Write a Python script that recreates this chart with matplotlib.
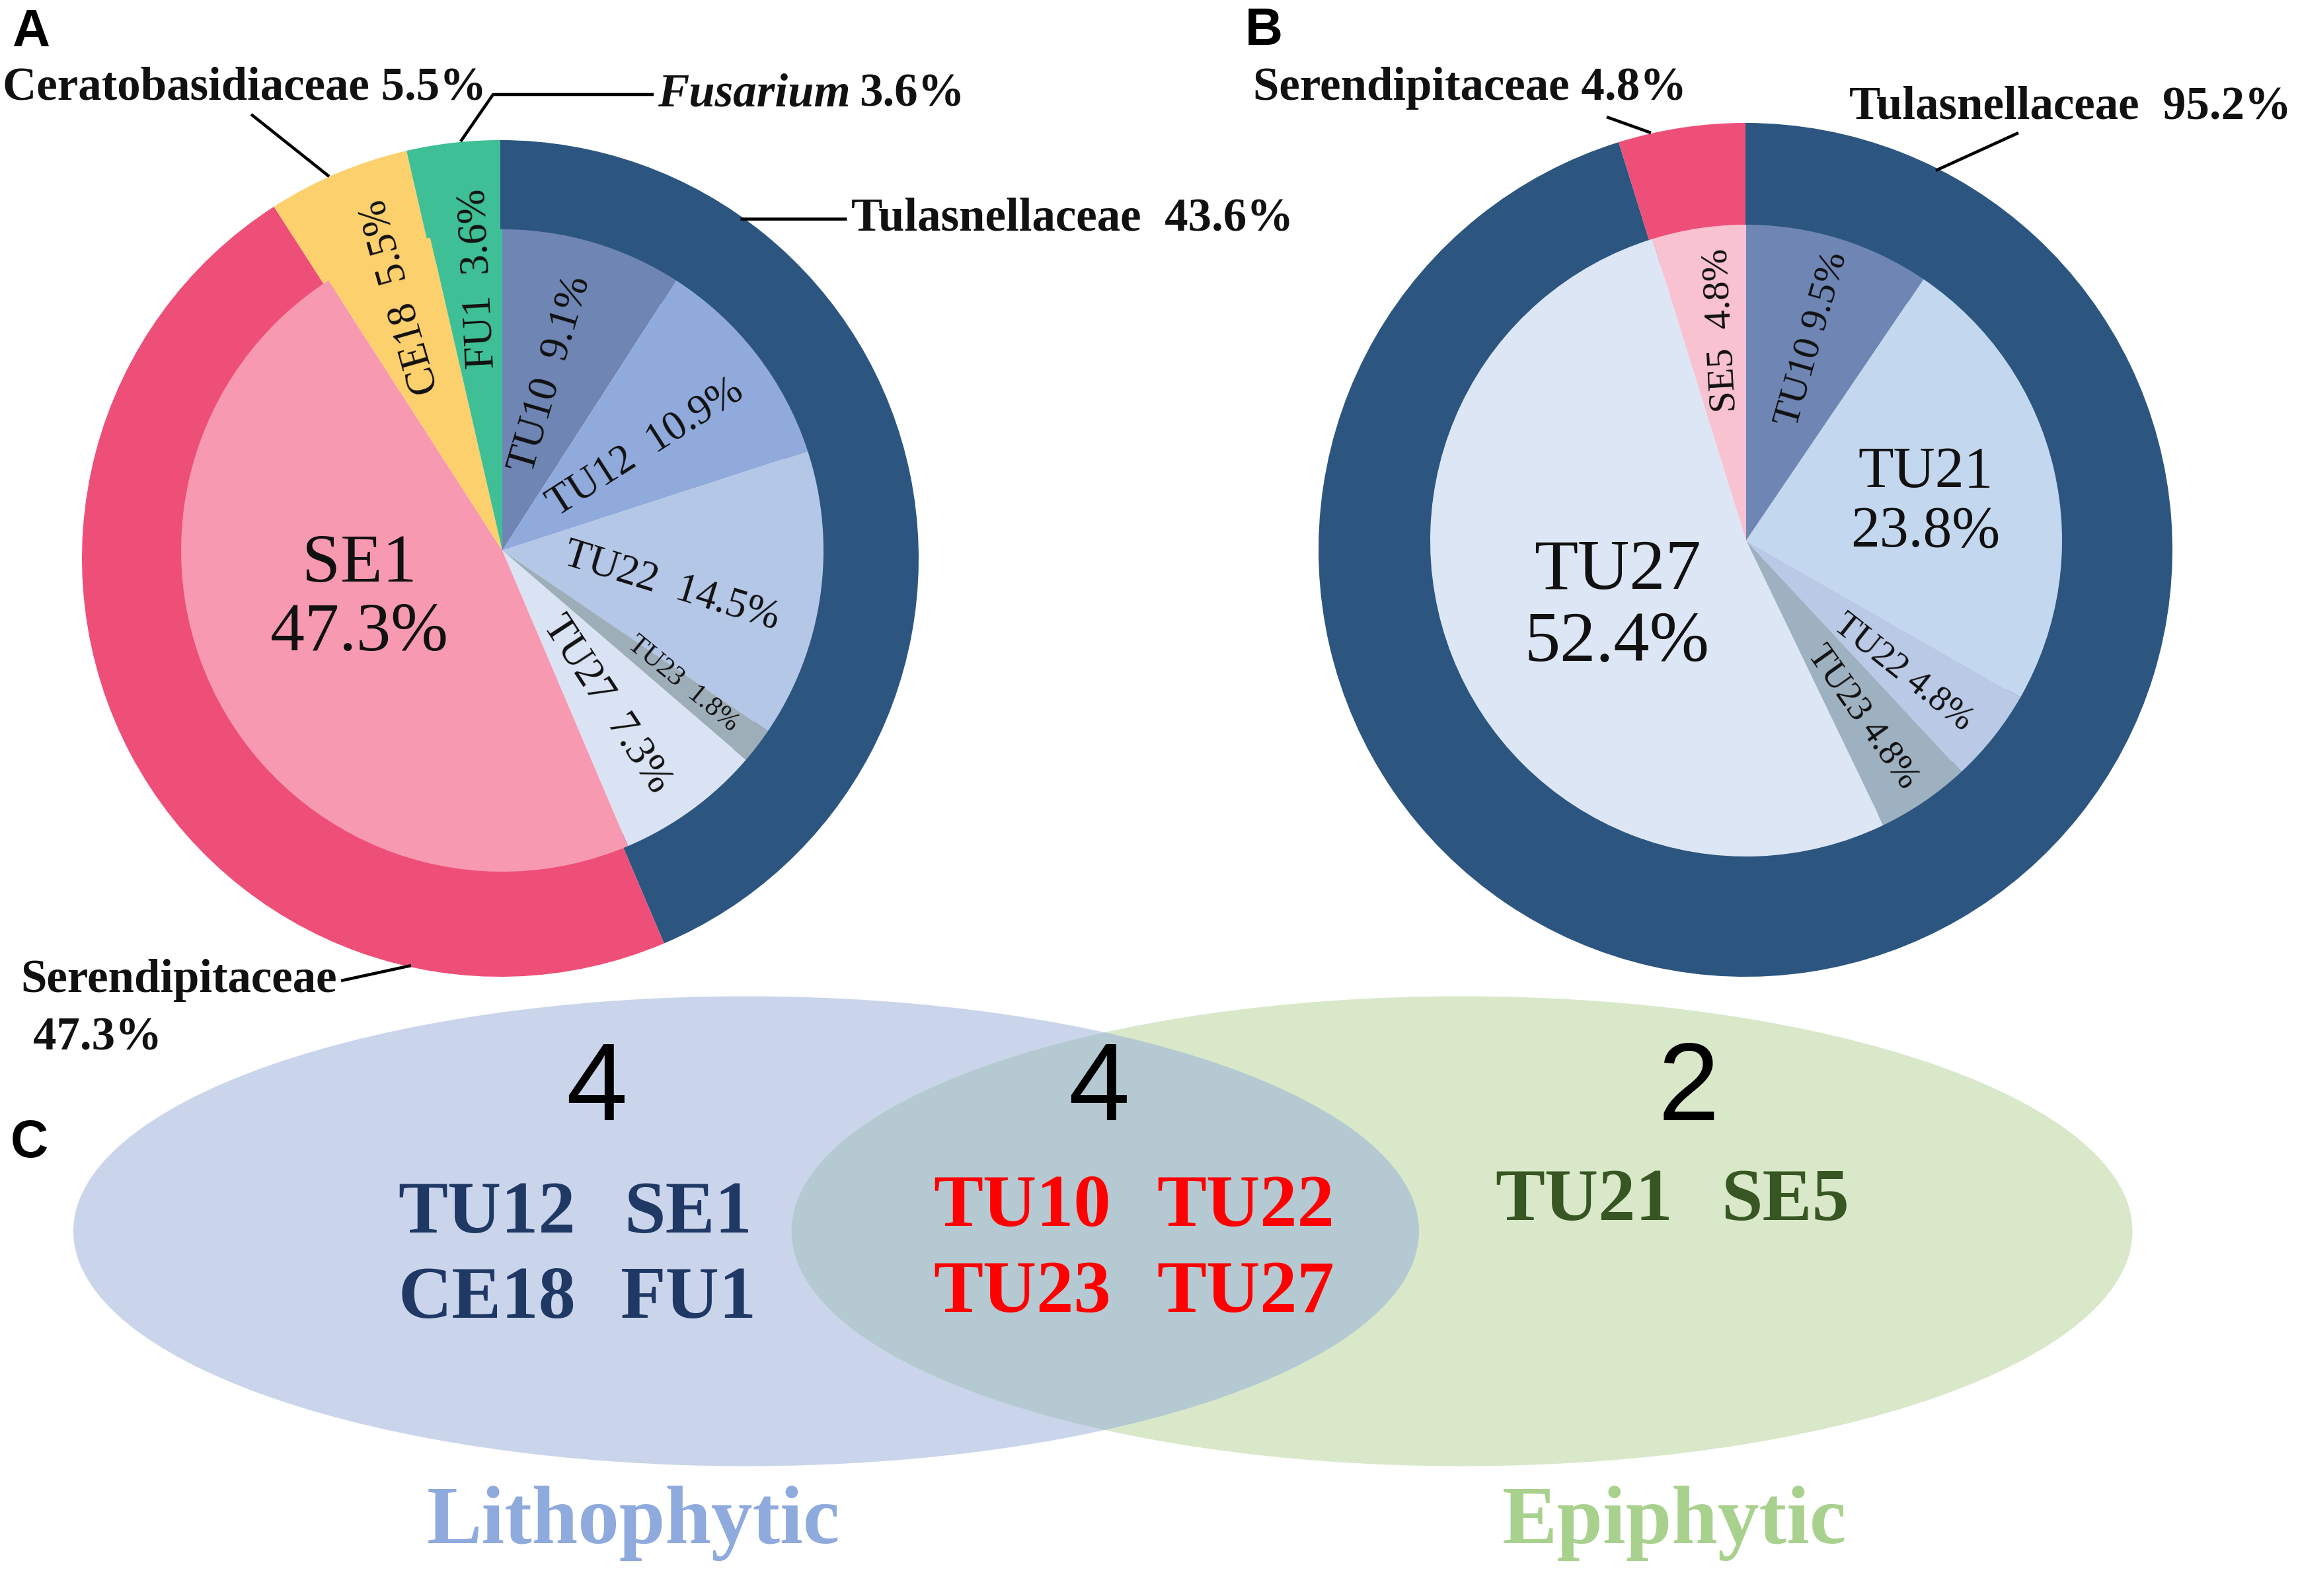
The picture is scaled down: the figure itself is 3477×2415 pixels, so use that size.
import numpy as np
import matplotlib
matplotlib.use("Agg")
import matplotlib.pyplot as plt
from matplotlib.patches import Ellipse

# ---- data ----
# panel A (lithophytic)
a_outer_names = ["Tulasnellaceae", "Serendipitaceae", "Ceratobasidiaceae", "Fusarium"]
a_outer_pct = [43.6, 47.3, 5.5, 3.6]
a_inner_names = ["TU10", "TU12", "TU22", "TU23", "TU27", "SE1", "CE18", "FU1"]
a_inner_pct = [9.1, 10.9, 14.5, 1.8, 7.3, 47.3, 5.5, 3.6]

# panel B (epiphytic)
b_outer_names = ["Tulasnellaceae", "Serendipitaceae"]
b_outer_pct = [95.2, 4.8]
b_inner_names = ["TU10", "TU21", "TU22", "TU23", "TU27", "SE5"]
b_inner_pct = [9.5, 23.8, 4.8, 4.8, 52.4, 4.8]

# panel C (venn)
venn_counts = [4, 4, 2]
venn_only_litho = [["TU12", "SE1"], ["CE18", "FU1"]]
venn_shared = [["TU10", "TU22"], ["TU23", "TU27"]]
venn_only_epi = [["TU21", "SE5"]]
venn_sets = ["Lithophytic", "Epiphytic"]

# ---- style ----
W, H = 3477, 2415
DPI = 300
SERIF = "Liberation Serif"
SANS = "Liberation Sans"

outer_col = {"Tulasnellaceae": "#2c5680", "Serendipitaceae": "#ee4f78",
             "Ceratobasidiaceae": "#fdd06e", "Fusarium": "#3fbf95"}
a_inner_col = ["#6f86b5", "#91aadc", "#b4c7e7", "#9eaeb9", "#dae3f3",
               "#f799b1", "#fdd06e", "#3fbf95"]
b_inner_col = ["#6f86b5", "#c3d7ee", "#b9c9e6", "#9eb1c1", "#dde6f4", "#f9c2d0"]

# label placement: (radius fraction, angle shift, rotation shift or None, fontsize, text)
a_lab = {
    "TU10": (0.57, 1, 0, 15, "TU10  9.1%"),
    "TU12": (0.55, -2, -5, 15, "TU12  10.9%"),
    "TU22": (0.54, -4, -9, 15, "TU22  14.5%"),
    "TU23": (0.70, 1, -2, 10, "TU23  1.8%"),
    "TU27": (0.58, -2, -3, 15, "TU27  7.3%"),
    "SE1": (0.47, -9, None, 25, "SE1\n47.3%"),
    "CE18": (0.85, -1, -7, 15, "CE18  5.5%"),
    "FU1": (0.85, -1.5, -3.5, 15, "FU1  3.6%"),
}
b_lab = {
    "TU10": (0.67, -1, 1, 14, "TU10 9.5%"),
    "TU21": (0.58, -1, None, 21, "TU21\n23.8%"),
    "TU22": (0.65, -1.7, 0, 13, "TU22 4.8%"),
    "TU23": (0.67, -1, 1, 13, "TU23 4.8%"),
    "TU27": (0.46, 6, None, 26, "TU27\n52.4%"),
    "SE5": (0.67, -2, -5.5, 14, "SE5  4.8%"),
}


def Y(py):
    # pixel row -> data y
    return H - py


def norm_rot(a):
    return ((a + 180) % 360) - 180


def donut(ax, c_out, r_out, c_in, r_in, outer, outer_names, inner, inner_names, inner_cols, labs):
    ax.pie(outer, radius=r_out, center=c_out, startangle=90, counterclock=False,
           colors=[outer_col[n] for n in outer_names],
           wedgeprops=dict(width=r_out - r_in + 30, linewidth=0))
    wedges, _ = ax.pie(inner, radius=r_in, center=c_in, startangle=90,
                       counterclock=False, colors=inner_cols,
                       wedgeprops=dict(linewidth=0))
    cx, cy = c_in
    for w, name in zip(wedges, inner_names):
        frac, dpos, drot, fs, txt = labs[name]
        mid = (w.theta1 + w.theta2) / 2
        ang = np.deg2rad(mid + dpos)
        x = cx + frac * r_in * np.cos(ang)
        y = cy + frac * r_in * np.sin(ang)
        rot = 0 if drot is None else norm_rot(mid + drot)
        ax.text(x, y, txt, fontsize=fs, family=SERIF, ha="center", va="center",
                rotation=rot, rotation_mode="anchor", color="#111111",
                linespacing=1.15)


fig = plt.figure(figsize=(W / DPI, H / DPI), dpi=DPI)
ax = fig.add_axes([0, 0, 1, 1])

# pies
donut(ax, (757, Y(845)), 633, (760, Y(833)), 486, a_outer_pct, a_outer_names,
      a_inner_pct, a_inner_names, a_inner_col, a_lab)
donut(ax, (2641, Y(832)), 646, (2642, Y(818)), 478, b_outer_pct, b_outer_names,
      b_inner_pct, b_inner_names, b_inner_col, b_lab)

lab_kw = dict(fontsize=17, family=SERIF, fontweight="bold", va="center", color="#111111")
line_kw = dict(color="black", lw=1.1, solid_capstyle="butt")

# panel A callouts
ax.text(4, Y(133), "Ceratobasidiaceae 5.5%", ha="left", **lab_kw)
ax.plot([380, 498], [Y(173), Y(267)], **line_kw)
ax.text(995, Y(143), "Fusarium", ha="left", fontstyle="italic", **lab_kw)
ax.text(1300, Y(143), "3.6%", ha="left", **lab_kw)
ax.plot([697, 746, 989], [Y(214), Y(143), Y(143)], **line_kw)
ax.text(1288, Y(331), "Tulasnellaceae  43.6%", ha="left", **lab_kw)
ax.plot([1120, 1281], [Y(331), Y(331)], **line_kw)
ax.text(31, Y(1484), "Serendipitaceae", ha="left", **lab_kw)
ax.text(50, Y(1571), "47.3%", ha="left", **lab_kw)
ax.plot([516, 622], [Y(1484), Y(1461)], **line_kw)

# panel B callouts
ax.text(1896, Y(133), "Serendipitaceae 4.8%", ha="left", **lab_kw)
ax.plot([2431, 2498], [Y(177), Y(201)], **line_kw)
ax.text(2798, Y(162), "Tulasnellaceae  95.2%", ha="left", **lab_kw)
ax.plot([3054, 2929], [Y(201), Y(258)], **line_kw)

# venn
left = Ellipse((1129, Y(1863)), 2036, 711, facecolor="#cad5ec", edgecolor="none", zorder=1)
right = Ellipse((2212, Y(1863)), 2029, 711, facecolor="#d8e8c9", edgecolor="none", zorder=1)
ax.add_patch(left)
ax.add_patch(right)
mid_patch = Ellipse((2212, Y(1863)), 2029, 711, facecolor="#b4c9d1", edgecolor="none", zorder=2)
ax.add_patch(mid_patch)
mid_patch.set_clip_path(Ellipse((1129, Y(1863)), 2036, 711, transform=ax.transData))

for n, x in zip(venn_counts, [903, 1663, 2555]):
    ax.text(x, Y(1652), str(n), fontsize=40, family=SANS, ha="center", va="center",
            color="black", zorder=3)

venn_kw = dict(fontsize=27, family=SERIF, fontweight="bold", ha="center", va="center", zorder=3)
for row, py in zip(venn_only_litho, [1838, 1967]):
    for name, px in zip(row, [737, 1041]):
        ax.text(px, Y(py), name, color="#1f3864", **venn_kw)
for row, py in zip(venn_shared, [1828, 1958]):
    for name, px in zip(row, [1547, 1885]):
        ax.text(px, Y(py), name, color="#ff0000", **venn_kw)
for row, py in zip(venn_only_epi, [1819]):
    for name, px in zip(row, [2397, 2701]):
        ax.text(px, Y(py), name, color="#375623", **venn_kw)

ax.text(959, Y(2305), venn_sets[0], fontsize=30, family=SERIF, fontweight="bold",
        ha="center", va="center", color="#8faadc")
ax.text(2534, Y(2305), venn_sets[1], fontsize=30, family=SERIF, fontweight="bold",
        ha="center", va="center", color="#a9d18e")

# panel letters
for letter, px, py in [("A", 47, 49), ("B", 1912, 48), ("C", 44, 1730)]:
    ax.text(px, Y(py), letter, fontsize=19, family=SANS, fontweight="bold",
            ha="center", va="center", color="black")

ax.set_xlim(0, W)
ax.set_ylim(0, H)
ax.set_aspect("auto")
ax.axis("off")

fig.savefig("out.png", dpi=DPI, facecolor="white")
